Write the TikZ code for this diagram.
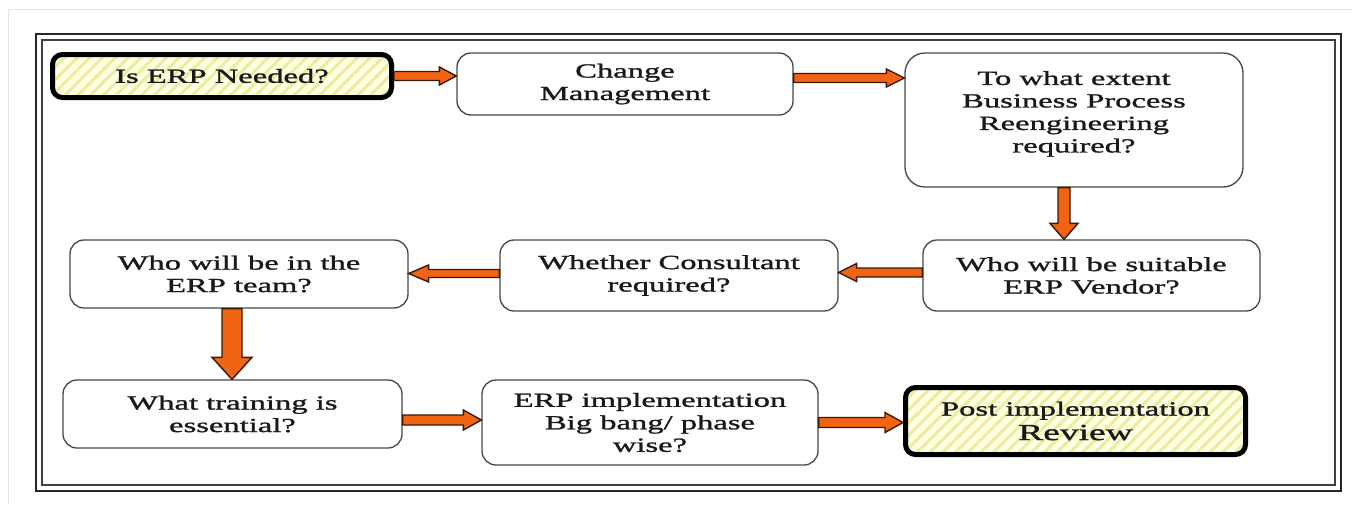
\documentclass[tikz,border=0pt]{standalone}
\usepackage{fontspec}
\setmainfont{Liberation Serif}[FakeStretch=1.63,FakeBold=1.3]
\usetikzlibrary{calc,patterns.meta}
\definecolor{arrowfill}{RGB}{240,100,20}
\definecolor{arrowline}{RGB}{60,25,5}
\definecolor{boxline}{RGB}{70,70,70}
\definecolor{txt}{RGB}{25,25,25}
\definecolor{paleyel}{RGB}{255,255,228}
\definecolor{stripe}{RGB}{236,236,160}
\definecolor{pageline}{RGB}{228,228,228}
\newcommand{\blockarrow}[5]{%
  \coordinate (hb) at ($(#2)!#5!(#1)$);
  \draw[barrow] ($(#1)!#3!90:(#2)$) -- ($(hb)!#3!90:(#2)$) -- ($(hb)!#4!90:(#2)$) -- (#2)
     -- ($(hb)!#4!-90:(#2)$) -- ($(hb)!#3!-90:(#2)$) -- ($(#1)!#3!-90:(#2)$) -- cycle;}
\tikzset{
  box/.style={draw=boxline, line width=1.3pt, rounded corners=14pt, fill=white, inner sep=0pt,
    align=center, text=txt, font=\fontsize{20}{22.5}\selectfont},
  keybox/.style={box, draw=black, line width=5pt, rounded corners=10pt, fill=none,
    preaction={fill=paleyel},
    preaction={pattern={Lines[angle=45,distance=9pt,line width=3pt]}, pattern color=stripe}},
  barrow/.style={fill=arrowfill, draw=arrowline, line width=1.4pt, line join=miter},
  frameout/.style={draw=black!85, line width=2.5pt},
  framein/.style={draw=black!75, line width=1.2pt},
}
\begin{document}
\begin{tikzpicture}[x=1pt,y=-1pt]
\useasboundingbox (0,0) rectangle (1352,504);
% faint page border
\draw[pageline, line width=1pt] (8,504) -- (8,9) -- (1352,9);
% double frame
\draw[frameout] (36,34) rectangle (1341,491);
\draw[framein] (42,40) rectangle (1335,485);
% boxes
\node[keybox, minimum width=339pt, minimum height=43pt] (n1) at (222,76) {Is ERP Needed?};
\node[box, minimum width=336pt, minimum height=62pt] (n2) at (625,84) {Change\\Management};
\node[box, rounded corners=20pt, minimum width=338pt, minimum height=134pt] (n3) at (1074,120)
  {To what extent\\Business Process\\Reengineering\\required?\\[-6pt]};
\node[box, minimum width=337pt, minimum height=71pt] (n4) at (1091.5,275.5) {Who will be suitable\\ERP Vendor?};
\node[box, minimum width=338pt, minimum height=71pt] (n5) at (669,275.5) {Whether Consultant\\required?};
\node[box, minimum width=338pt, minimum height=68pt] (n6) at (239,274) {Who will be in the\\ERP team?};
\node[box, minimum width=339pt, minimum height=68pt] (n7) at (232.5,414) {What training is\\essential?};
\node[box, minimum width=336pt, minimum height=85pt] (n8) at (650,422.5) {ERP implementation\\Big bang/ phase\\wise?};
\node[keybox, minimum width=340pt, minimum height=67pt] (n9) at (1075.5,421)
  {Post implementation\\[2pt]{\fontsize{23}{26}\selectfont Review}};
% connector end points
\coordinate (a1s) at (n1.east);
\coordinate (a1e) at (n2.west |- n1.east);
\coordinate (a2s) at ([yshift=6pt]n2.east);
\coordinate (a2e) at (n3.west |- a2s);
\coordinate (a3s) at ([xshift=-10pt]n3.south);
\coordinate (a3e) at (n4.north -| a3s);
\coordinate (a4s) at ([yshift=3pt]n4.west);
\coordinate (a4e) at (n5.east |- a4s);
\coordinate (a5s) at ([yshift=2pt]n5.west);
\coordinate (a5e) at (n6.east |- a5s);
\coordinate (a6s) at ([xshift=-7pt]n6.south);
\coordinate (a6e) at (n7.north -| a6s);
\coordinate (a7s) at ([yshift=-6pt]n7.east);
\coordinate (a7e) at (n8.west |- a7s);
\coordinate (a8s) at (n8.east);
\coordinate (a8e) at (n9.west |- a8s);
% block arrows
\blockarrow{a1s}{a1e}{4.5pt}{9pt}{17pt}
\blockarrow{a2s}{a2e}{4.5pt}{9pt}{18pt}
\blockarrow{a3s}{a3e}{6pt}{14pt}{16pt}
\blockarrow{a4s}{a4e}{4.5pt}{9pt}{18pt}
\blockarrow{a5s}{a5e}{4pt}{8.5pt}{20pt}
\blockarrow{a6s}{a6e}{10pt}{20pt}{22pt}
\blockarrow{a7s}{a7e}{5pt}{10pt}{18pt}
\blockarrow{a8s}{a8e}{5pt}{10pt}{18pt}
\end{tikzpicture}
\end{document}
